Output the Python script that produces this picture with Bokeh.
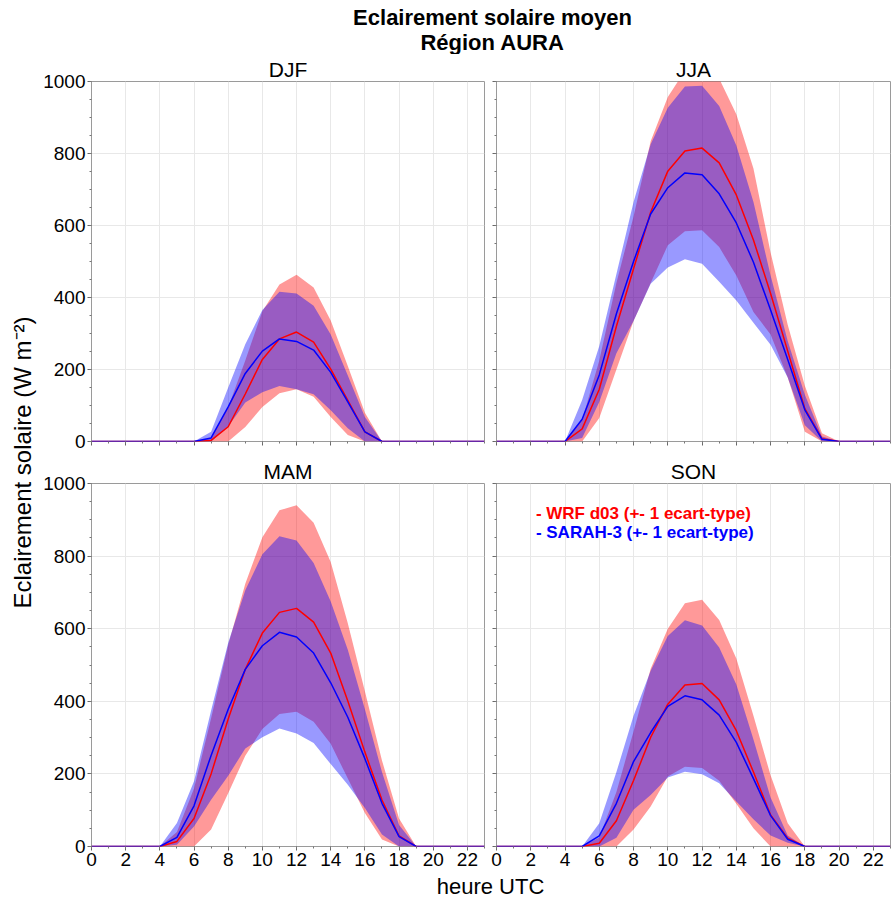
from math import pi
from bokeh.plotting import figure
from bokeh.models import Range1d, SingleIntervalTicker, Label, ColumnDataSource
from bokeh.layouts import row, column
from bokeh.embed import file_html
from bokeh.resources import INLINE

# ---------------- data ----------------
hours = list(range(24))

djf_wrf_mean   = [0,0,0,0,0,0, 0, 3, 41,132,228,285,304,276,201,114, 27, 0, 0,0,0,0,0,0]
djf_wrf_hi     = [0,0,0,0,0,0, 0,10, 95,225,362,436,463,428,336,210, 80, 0, 0,0,0,0,0,0]
djf_wrf_lo     = [0,0,0,0,0,0, 0, 0,  0, 40, 96,134,145,124, 68, 18,  0, 0, 0,0,0,0,0,0]
djf_sarah_mean = [0,0,0,0,0,0, 0,10, 96,189,251,285,278,254,192,110, 27, 0, 0,0,0,0,0,0]
djf_sarah_hi   = [0,0,0,0,0,0, 0,27,150,270,365,416,411,377,297,183, 68, 0, 0,0,0,0,0,0]
djf_sarah_lo   = [0,0,0,0,0,0, 0, 0, 42,108,137,154,145,131, 87, 37,  0, 0, 0,0,0,0,0,0]

jja_wrf_mean   = [0,0,0,0,0, 35,145,320,480,637,751, 807, 815, 774,685,560,411,251, 91, 8, 0,0,0,0]
jja_wrf_hi     = [0,0,0,0,0, 60,225,440,625,834,957,1030,1043,1008,909,758,525,324,155,23, 0,0,0,0]
jja_wrf_lo     = [0,0,0,0,0,  0, 65,200,335,440,545, 584, 587, 540,461,360,297,178, 27, 0, 0,0,0,0]
jja_sarah_mean = [0,0,0,0,0, 62,185,355,500,632,705, 746, 741, 688,607,498,365,228, 88, 6, 0,0,0,0]
jja_sarah_hi   = [0,0,0,0,0,115,265,465,665,826,927, 986, 988, 932,822,665,461,279,130,14, 0,0,0,0]
jja_sarah_lo   = [0,0,0,0,0, 10,110,245,335,438,483, 506, 494, 444,392,330,269,178, 45, 0, 0,0,0,0]

mam_wrf_mean   = [0,0,0,0,0, 14, 77,200,351,488,588,645,656,618,533,401,260,128,29, 0, 0,0,0,0]
mam_wrf_hi     = [0,0,0,0,0, 40,160,353,555,724,852,926,940,892,784,615,428,237,77, 0, 0,0,0,0]
mam_wrf_lo     = [0,0,0,0,0,  0,  0, 47,147,250,324,365,371,344,283,187, 92, 19, 0, 0, 0,0,0,0]
mam_sarah_mean = [0,0,0,0,0, 25,112,251,378,488,553,590,577,533,451,356,242,119,27, 0, 0,0,0,0]
mam_sarah_hi   = [0,0,0,0,0, 65,180,375,561,706,805,855,843,781,675,542,378,205,59, 0, 0,0,0,0]
mam_sarah_lo   = [0,0,0,0,0,  5, 55,129,195,270,301,325,311,285,227,170,106, 33, 0, 0, 0,0,0,0]

son_wrf_mean   = [0,0,0,0,0, 0, 9, 71,182,301,392,445,449,404,319,205, 87,23, 0, 0,0,0,0,0]
son_wrf_hi     = [0,0,0,0,0, 0,25,150,317,490,600,670,680,624,518,360,196,64, 0, 0,0,0,0,0]
son_wrf_lo     = [0,0,0,0,0, 0, 0,  0, 47,110,193,220,216,181,118, 50,  0, 0, 0, 0,0,0,0,0]
son_sarah_mean = [0,0,0,0,0, 0,29,119,234,314,386,415,404,362,287,187, 85,20, 0, 0,0,0,0,0]
son_sarah_hi   = [0,0,0,0,0, 0,64,205,360,484,580,623,609,548,446,295,135,30, 0, 0,0,0,0,0]
son_sarah_lo   = [0,0,0,0,0, 0, 0, 24,101,142,190,206,199,174,124, 75, 30,10, 0, 0,0,0,0,0]

data = {
    "DJF": (djf_wrf_mean, djf_wrf_lo, djf_wrf_hi, djf_sarah_mean, djf_sarah_lo, djf_sarah_hi),
    "JJA": (jja_wrf_mean, jja_wrf_lo, jja_wrf_hi, jja_sarah_mean, jja_sarah_lo, jja_sarah_hi),
    "MAM": (mam_wrf_mean, mam_wrf_lo, mam_wrf_hi, mam_sarah_mean, mam_sarah_lo, mam_sarah_hi),
    "SON": (son_wrf_mean, son_wrf_lo, son_wrf_hi, son_sarah_mean, son_sarah_lo, son_sarah_hi),
}

main_title = ["Eclairement solaire moyen", "Région AURA"]
y_label = "Eclairement solaire (W m⁻²)"
x_label = "heure UTC"
legend_texts = ["- WRF d03 (+- 1 ecart-type)", "- SARAH-3 (+- 1 ecart-type)"]

# ---------------- styling / layout ----------------
FONT = "Liberation Sans"
FRAME_W = 394
FRAME_H = 363
WRF_COLOR = "#ff0000"
SARAH_COLOR = "#0000ff"
AX_COLOR = "#9a9a9a"
TOTAL_W = 892
TITLE_H = 54
XLAB_H = 26
TOP = dict(mb_top=24, mb_bottom=12)
BOT = dict(mb_top=30, mb_bottom=26)


def panel(name, col, rowi):
    left = col == 0
    bottom = rowi == 1
    mb_left = 50 if left else 6
    mb_right = 6 if left else 2
    cfg = BOT if bottom else TOP
    p = figure(width=mb_left + FRAME_W + mb_right,
               height=cfg["mb_top"] + FRAME_H + cfg["mb_bottom"],
               x_range=Range1d(0, 23), y_range=Range1d(0, 1000),
               output_backend="svg", toolbar_location=None, title=name,
               min_border_left=mb_left, min_border_right=mb_right,
               min_border_top=cfg["mb_top"], min_border_bottom=cfg["mb_bottom"])
    p.title.text_font = FONT
    p.title.text_font_size = "21px"
    p.title.text_font_style = "normal"
    p.title.text_color = "black"
    p.title.align = "center"
    p.title.standoff = 2
    p.title.offset = 0

    p.xaxis.ticker = SingleIntervalTicker(interval=2, num_minor_ticks=2)
    p.yaxis.ticker = SingleIntervalTicker(interval=200, num_minor_ticks=4)
    for ax in (p.xaxis[0], p.yaxis[0]):
        ax.axis_line_color = None          # the frame outline draws the axis line
        ax.major_tick_line_color = "#666666"
        ax.minor_tick_line_color = "#777777"
        ax.major_tick_out = 4
        ax.major_tick_in = 0
        ax.minor_tick_out = 2
        ax.minor_tick_in = 0
        ax.major_label_text_font = FONT
        ax.major_label_text_font_size = "19px"
        ax.major_label_text_color = "black"
        ax.major_label_standoff = 2
    if not bottom:
        p.xaxis.major_label_text_color = None
        p.xaxis.major_label_standoff = 0
    if not left:
        p.yaxis.major_label_text_color = None
        p.yaxis.major_label_standoff = 0

    p.xgrid.grid_line_color = "#e8e8e8"
    p.ygrid.grid_line_color = "#e8e8e8"
    p.outline_line_color = AX_COLOR
    p.outline_line_width = 1

    wm, wl, wh, sm, sl, sh = data[name]
    src = ColumnDataSource(dict(h=hours, wm=wm, wl=wl, wh=wh, sm=sm, sl=sl, sh=sh))
    p.varea(x="h", y1="wl", y2="wh", source=src, fill_color=WRF_COLOR, fill_alpha=0.4)
    p.varea(x="h", y1="sl", y2="sh", source=src, fill_color=SARAH_COLOR, fill_alpha=0.4)
    p.line(x="h", y="wm", source=src, line_color=WRF_COLOR, line_width=1.5)
    p.line(x="h", y="sm", source=src, line_color=SARAH_COLOR, line_width=1.5)

    if name == "SON":
        for txt, yy, colr in zip(legend_texts, [917, 865], [WRF_COLOR, SARAH_COLOR]):
            p.add_layout(Label(x=2.3, y=yy, text=txt, text_color=colr, text_font=FONT,
                               text_font_size="17px", text_font_style="bold",
                               text_align="left", text_baseline="middle"))
    return p


def text_fig(w, h):
    f = figure(width=w, height=h, x_range=Range1d(0, w), y_range=Range1d(0, h),
               output_backend="svg", toolbar_location=None,
               x_axis_location=None, y_axis_location=None, min_border=0)
    f.grid.visible = False
    f.outline_line_color = None
    return f


CENTER_X = 492  # centre of the two panels

title_fig = text_fig(TOTAL_W, TITLE_H)
title_fig.add_layout(Label(x=CENTER_X, y=TITLE_H - 17, text=main_title[0], text_font=FONT,
                           text_font_size="22px", text_font_style="bold", text_color="black",
                           text_align="center", text_baseline="middle"))
title_fig.add_layout(Label(x=CENTER_X, y=TITLE_H - 42, text=main_title[1], text_font=FONT,
                           text_font_size="22px", text_font_style="bold", text_color="black",
                           text_align="center", text_baseline="middle"))

p_djf = panel("DJF", 0, 0)
p_jja = panel("JJA", 1, 0)
p_mam = panel("MAM", 0, 1)
p_son = panel("SON", 1, 1)

grid_h = p_djf.height + p_mam.height
top_frame_y = TOP["mb_top"]
bot_frame_end = p_djf.height + BOT["mb_top"] + FRAME_H
mid_from_top = (top_frame_y + bot_frame_end) / 2
ylab_w = 40
ylab_fig = text_fig(ylab_w, grid_h)
ylab_fig.add_layout(Label(x=22, y=grid_h - mid_from_top, text=y_label, angle=pi / 2,
                          text_font=FONT, text_font_size="24px", text_color="black",
                          text_align="center", text_baseline="middle"))

xlab_fig = text_fig(TOTAL_W, XLAB_H)
xlab_fig.add_layout(Label(x=CENTER_X - 2, y=12, text=x_label, text_font=FONT, text_font_size="22px",
                          text_color="black", text_align="center", text_baseline="middle"))

layout = column(title_fig,
                row(ylab_fig, column(row(p_djf, p_jja), row(p_mam, p_son))),
                xlab_fig)

open("out.html", "w").write(file_html(layout, INLINE))
